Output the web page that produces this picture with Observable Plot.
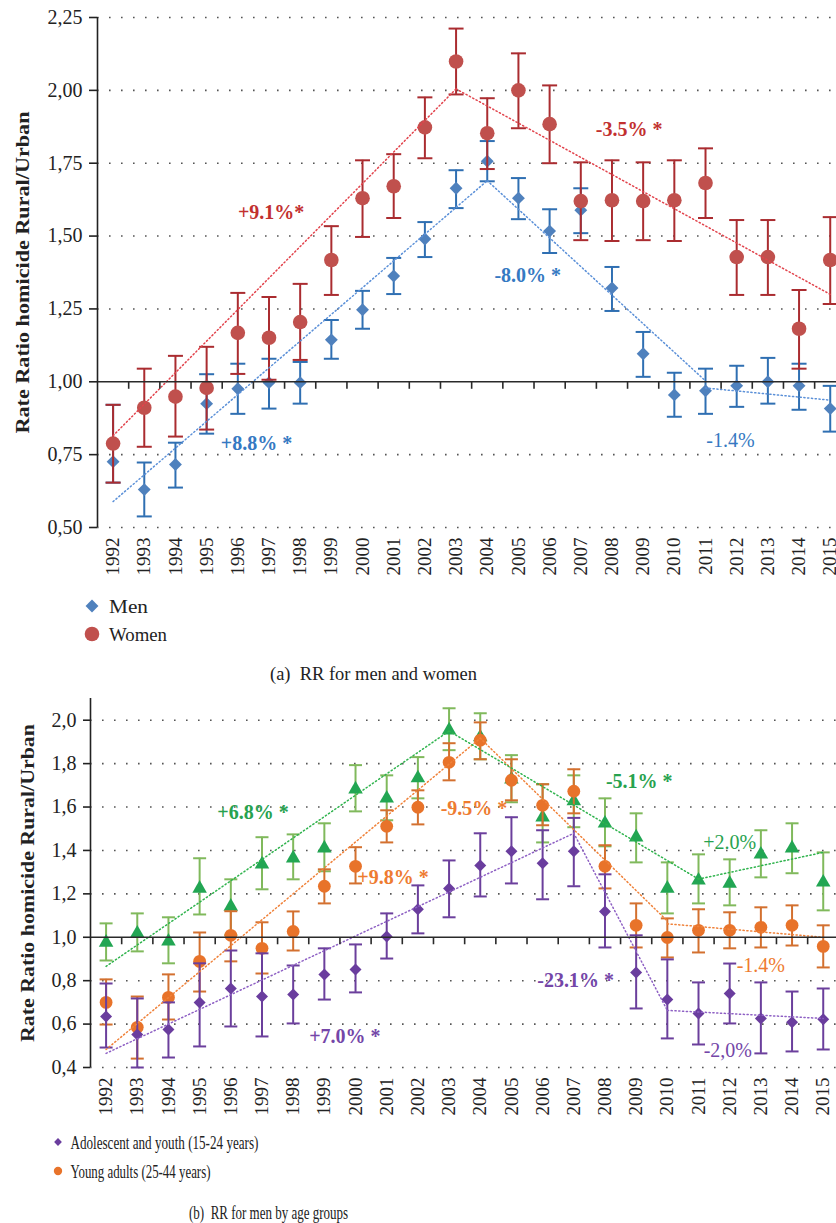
<!DOCTYPE html>
<html><head><meta charset="utf-8">
<script src="https://cdn.jsdelivr.net/npm/d3@7"></script>
<script src="https://cdn.jsdelivr.net/npm/@observablehq/plot@0.6"></script>
<style>
html,body{margin:0;padding:0;background:#fff;overflow:hidden;}
#wrap{position:relative;width:836px;height:1223px;font-family:"Liberation Serif",serif;}
#wrap > div{position:absolute;left:0;}
</style></head><body>
<div id="wrap"><div id="a" style="top:0"></div><div id="b" style="top:690px"></div><div id="leg" style="top:0"></div></div>
<script>
// ---------- DATA ----------
const years = [1992,1993,1994,1995,1996,1997,1998,1999,2000,2001,2002,2003,2004,2005,2006,2007,2008,2009,2010,2011,2012,2013,2014,2015];

// (a) Men / Women
const menRR  = [0.726,0.630,0.716,0.925,0.976,0.997,0.997,1.144,1.247,1.363,1.490,1.664,1.757,1.630,1.517,1.589,1.322,1.096,0.955,0.969,0.986,1.000,0.986,0.908];
const menLo  = [0.654,0.538,0.637,0.822,0.890,0.908,0.925,1.079,1.182,1.301,1.428,1.596,1.688,1.558,1.442,1.510,1.243,1.017,0.880,0.890,0.914,0.925,0.904,0.829];
const menHi  = [0.921,0.723,0.791,1.026,1.062,1.079,1.068,1.212,1.312,1.425,1.548,1.726,1.826,1.699,1.592,1.664,1.394,1.171,1.031,1.045,1.055,1.082,1.062,0.986];
const womenRR = [0.788,0.911,0.949,0.979,1.168,1.151,1.205,1.418,1.630,1.671,1.873,2.099,1.853,2.000,1.884,1.620,1.623,1.620,1.623,1.682,1.428,1.428,1.182,1.418];
const womenLo = [0.654,0.777,0.812,0.836,1.027,1.007,1.075,1.298,1.497,1.562,1.767,1.986,1.730,1.870,1.750,1.486,1.483,1.486,1.483,1.562,1.298,1.298,1.045,1.267];
const womenHi = [0.921,1.045,1.089,1.120,1.305,1.291,1.336,1.534,1.760,1.781,1.976,2.212,1.973,2.127,2.017,1.753,1.760,1.753,1.760,1.801,1.555,1.555,1.315,1.565];
// joinpoint trend segments (endpoints)
const trendA = [
  {series:"men", seg:1, year:1992, v:0.589},{series:"men", seg:1, year:2004, v:1.690},
  {series:"men", seg:2, year:2004, v:1.690},{series:"men", seg:2, year:2011, v:1.003},
  {series:"men", seg:3, year:2011, v:0.979},{series:"men", seg:3, year:2015, v:0.937},
  {series:"women", seg:1, year:1992, v:0.815},{series:"women", seg:1, year:2003, v:2.005},
  {series:"women", seg:2, year:2003, v:2.005},{series:"women", seg:2, year:2015, v:1.300}
];
const annA = [
  {series:"women", year:1997.07, v:1.579, text:"+9.1%*", sig:true},
  {series:"women", year:2008.55, v:1.866, text:"-3.5% *", sig:true},
  {series:"men", year:2005.3, v:1.363, text:"-8.0% *", sig:true},
  {series:"men", year:1996.6, v:0.788, text:"+8.8% *", sig:true},
  {series:"men", year:2011.8, v:0.798, text:"-1.4%", sig:false}
];
const yTicksA = [0.5,0.75,1.0,1.25,1.5,1.75,2.0,2.25];

// (b) Men by age group
const youthRR = [0.635,0.552,0.575,0.700,0.764,0.727,0.736,0.829,0.852,1.004,1.129,1.225,1.331,1.396,1.341,1.396,1.119,0.838,0.713,0.649,0.741,0.626,0.608,0.622];
const youthLo = [0.492,0.400,0.446,0.497,0.589,0.543,0.603,0.713,0.746,0.902,1.018,1.092,1.188,1.248,1.175,1.235,0.953,0.672,0.534,0.506,0.603,0.465,0.474,0.483];
const youthHi = [0.787,0.718,0.700,0.880,0.939,0.926,0.870,0.949,0.967,1.110,1.239,1.354,1.479,1.553,1.493,1.550,1.290,1.009,0.898,0.792,0.879,0.792,0.750,0.764];
const youngRR = [0.700,0.585,0.723,0.889,1.009,0.949,1.027,1.235,1.327,1.511,1.599,1.806,1.908,1.723,1.608,1.673,1.327,1.055,0.999,1.032,1.032,1.046,1.055,0.958];
const youngLo = [0.598,0.441,0.621,0.750,0.889,0.833,0.939,1.156,1.248,1.437,1.520,1.723,1.820,1.631,1.516,1.571,1.225,0.953,0.907,0.930,0.949,0.953,0.962,0.861];
const youngHi = [0.806,0.727,0.829,1.022,1.120,1.069,1.119,1.313,1.415,1.585,1.677,1.894,1.990,1.820,1.705,1.774,1.424,1.156,1.087,1.129,1.115,1.138,1.147,1.055];
const olderRR = [0.976,1.018,0.981,1.225,1.142,1.336,1.364,1.410,1.682,1.640,1.733,1.954,1.922,1.728,1.553,1.627,1.525,1.461,1.225,1.262,1.248,1.382,1.410,1.253];
const olderLo = [0.893,0.935,0.880,1.105,1.010,1.221,1.267,1.304,1.580,1.539,1.640,1.862,1.820,1.622,1.437,1.507,1.419,1.345,1.110,1.156,1.147,1.276,1.295,1.124];
const olderHi = [1.064,1.110,1.092,1.364,1.267,1.461,1.474,1.525,1.793,1.746,1.830,2.055,2.032,1.839,1.705,1.746,1.640,1.571,1.345,1.382,1.359,1.493,1.525,1.391];
const trendB = [
  {series:"older", seg:1, year:1992, v:0.866},{series:"older", seg:1, year:2003, v:1.950},
  {series:"older", seg:2, year:2003, v:1.950},{series:"older", seg:2, year:2011, v:1.268},
  {series:"older", seg:3, year:2011, v:1.268},{series:"older", seg:3, year:2015, v:1.391},
  {series:"young", seg:1, year:1992, v:0.483},{series:"young", seg:1, year:2004, v:1.917},
  {series:"young", seg:2, year:2004, v:1.917},{series:"young", seg:2, year:2010, v:1.075},
  {series:"young", seg:3, year:2010, v:1.062},{series:"young", seg:3, year:2015, v:1.000},
  {series:"youth", seg:1, year:1992, v:0.465},{series:"youth", seg:1, year:2007, v:1.479},
  {series:"youth", seg:2, year:2007, v:1.479},{series:"youth", seg:2, year:2010, v:0.663},
  {series:"youth", seg:3, year:2010, v:0.663},{series:"youth", seg:3, year:2015, v:0.626}
];
const annB = [
  {series:"older", year:1996.71, v:1.576, text:"+6.8% *", sig:true},
  {series:"young", year:2001.2, v:1.276, text:"+9.8% *", sig:true},
  {series:"young", year:2003.8, v:1.594, text:"-9.5% *", sig:true},
  {series:"older", year:2009.1, v:1.719, text:"-5.1% *", sig:true},
  {series:"older", year:2012.0, v:1.437, text:"+2.0%", sig:false},
  {series:"youth", year:1999.66, v:0.543, text:"+7.0% *", sig:true},
  {series:"youth", year:2007.06, v:0.801, text:"-23.1% *", sig:true},
  {series:"young", year:2013.0, v:0.870, text:"-1.4%", sig:false},
  {series:"youth", year:2011.94, v:0.478, text:"-2,0%", sig:false}
];
const yTicksB = [0.4,0.6,0.8,1.0,1.2,1.4,1.6,1.8,2.0];
const legendA = [{series:"men", label:"Men"},{series:"women", label:"Women"}];
const legendB = [{series:"youth", label:"Adolescent and youth (15-24 years)"},{series:"young", label:"Young adults (25-44 years)"}];
const captionA = "(a)\u00a0\u00a0RR for men and women";
const captionB = "(b)\u00a0\u00a0RR for men by age groups";
const yLabel = "Rate Ratio homicide Rural/Urban";

// ---------- STYLE ----------
const FONT = "Liberation Serif";
const sty = {
  men:   {mark:"#4f81bd", bar:"#2f6fb2", trend:"#5b90d8", label:"#3579c2", symbol:"diamond2", r:5.8},
  women: {mark:"#c0504d", bar:"#aa2c30", trend:"#e2434c", label:"#c2302f", symbol:"circle", r:7.3},
  youth: {mark:"#6a3d9e", bar:"#6b3f9c", trend:"#8e60c4", label:"#7446a8", symbol:"diamond2", r:5.4},
  young: {mark:"#e8732a", bar:"#d3702f", trend:"#f0823a", label:"#ee7b30", symbol:"circle", r:6.4},
  older: {mark:"#22a653", bar:"#80b95c", trend:"#2fb34d", label:"#27a24e", symbol:"triangle", r:5.4}
};
const rows = (rr, lo, hi) => years.map((y, i) => ({year: y, rr: rr[i], lo: lo[i], hi: hi[i]}));
const cap = w => ({draw(ctx){ ctx.moveTo(-w/2, 0); ctx.lineTo(w/2, 0); }});
const tickDown = {draw(ctx){ ctx.moveTo(0, 0); ctx.lineTo(0, 7); }};

function seriesMarks(data, key, capW) {
  const s = sty[key];
  return [
    Plot.ruleX(data, {x:"year", y1:"lo", y2:"hi", stroke:s.bar, strokeWidth:2}),
    Plot.dot(data, {x:"year", y:"lo", symbol:cap(capW), stroke:s.bar, strokeWidth:2, fill:"none"}),
    Plot.dot(data, {x:"year", y:"hi", symbol:cap(capW), stroke:s.bar, strokeWidth:2, fill:"none"}),
    Plot.dot(data, {x:"year", y:"rr", symbol:s.symbol, r:s.r, fill:s.mark, stroke:"none"})
  ];
}
function trendMarks(trend) {
  return Object.keys(sty).filter(k => trend.some(d => d.series === k)).map(k =>
    Plot.line(trend.filter(d => d.series === k), {x:"year", y:"v", z:"seg", stroke:sty[k].trend, strokeWidth:1.5, strokeDasharray:"1.2 2.6"}));
}
function annMarks(ann) {
  return ann.map(a => Plot.text([a], {x:"year", y:"v", text:"text", fill:sty[a.series].label,
    fontWeight:a.sig ? "bold" : "normal", fontSize:20, fontFamily:FONT}));
}

function chart({height, top, bottom, left, yDomain, yTicks, fmt, series, trend, ann, capW, labelDx, tickSizeY, labelLen}) {
  const step = 31.18;
  const p = Plot.plot({
    width: 836, height, marginTop: top, marginBottom: bottom, marginLeft: left, marginRight: 0,
    style: {fontFamily: FONT, fontSize: "19px", color: "#222", background: "transparent", overflow: "hidden"},
    x: {type: "linear", domain: [years[0] - 0.5, years[years.length - 1] + 0.5], range: [left, left + step * years.length]},
    y: {domain: yDomain},
    marks: [
      Plot.ruleY(yTicks.filter(d => d !== 1), {stroke:"#555", strokeWidth:1.6, strokeDasharray:"1.6 10.4"}),
      ...series.flatMap(([data, key]) => seriesMarks(data, key, capW)),
      ...trendMarks(trend),
      Plot.ruleY([1], {stroke:"#2a2a2a", strokeWidth:1.6}),
      Plot.dot(years.map(y => y + 0.5), {x: d => d, y: () => 1, symbol: tickDown, stroke:"#2a2a2a", strokeWidth:1.6, fill:"none"}),
      Plot.ruleX([years[0] - 0.5], {stroke:"#222", strokeWidth:1.6}),
      Plot.axisY({ticks: yTicks, tickFormat: fmt, tickSize: tickSizeY, tickPadding: 7, fontSize: 20, label: null, strokeWidth: 1.6}),
      Plot.axisX({ticks: years, tickFormat: d => String(d), tickRotate: -90, tickSize: 0, tickPadding: 10, fontSize: 19, label: null}),
      Plot.text([yLabel], {frameAnchor: "left", textAnchor: "middle", rotate: -90, dx: labelDx, fontWeight: "bold", fontSize: 19, fill: "#222", fontFamily: FONT}),
      ...annMarks(ann)
    ]
  });
  d3.select(p).selectAll("text").filter(function() { return this.textContent === yLabel; })
    .attr("textLength", labelLen).attr("lengthAdjust", "spacingAndGlyphs");
  return p;
}

const men = rows(menRR, menLo, menHi), women = rows(womenRR, womenLo, womenHi);
const youth = rows(youthRR, youthLo, youthHi), young = rows(youngRR, youngLo, youngHi), older = rows(olderRR, olderLo, olderHi);

document.getElementById("a").append(chart({
  height: 585, top: 17, bottom: 58, left: 97, yDomain: [0.5, 2.25], yTicks: yTicksA,
  fmt: d => d.toFixed(2).replace(".", ","), series: [[men, "men"], [women, "women"]],
  trend: trendA, ann: annA, capW: 15, labelDx: -75, tickSizeY: 8, labelLen: 322
}));
document.getElementById("b").append(chart({
  height: 432, top: 8, bottom: 55, left: 90, yDomain: [0.4, 2.1], yTicks: yTicksB,
  fmt: d => d.toFixed(1).replace(".", ","), series: [[older, "older"], [young, "young"], [youth, "youth"]],
  trend: trendB, ann: annB, capW: 13, labelDx: -63, tickSizeY: 7, labelLen: 318
}));

// ---------- legends & captions ----------
const svg = d3.select("#leg").append("svg").attr("width", 836).attr("height", 1223)
  .style("pointer-events", "none").attr("font-family", FONT).attr("font-size", 19).attr("fill", "#222");
const sym = {diamond2: d3.symbolDiamond2, circle: d3.symbolCircle, triangle: d3.symbolTriangle};
function legend(items, x0, y0, gap, scale, lengths) {
  items.forEach((it, i) => {
    const s = sty[it.series], y = y0 + i * gap;
    svg.append("path").attr("transform", `translate(${x0},${y})`)
      .attr("d", d3.symbol(sym[s.symbol], Math.PI * (s.r * scale) ** 2)()).attr("fill", s.mark);
    const t = svg.append("text").attr("x", x0 + 13 * scale + 4).attr("y", y).attr("dy", "0.35em").text(it.label);
    if (lengths) t.attr("textLength", lengths[i]).attr("lengthAdjust", "spacingAndGlyphs");
  });
}
legend(legendA, 92, 606, 28, 1, [39, 58]);
svg.append("text").attr("x", 270).attr("y", 673).attr("dy", "0.35em").attr("textLength", 207).attr("lengthAdjust", "spacingAndGlyphs").text(captionA);
legend(legendB, 58, 1142, 29, 0.65, [188, 140]);
svg.append("text").attr("x", 189).attr("y", 1212).attr("dy", "0.35em").attr("textLength", 159).attr("lengthAdjust", "spacingAndGlyphs").text(captionB);
</script>
</body></html>
